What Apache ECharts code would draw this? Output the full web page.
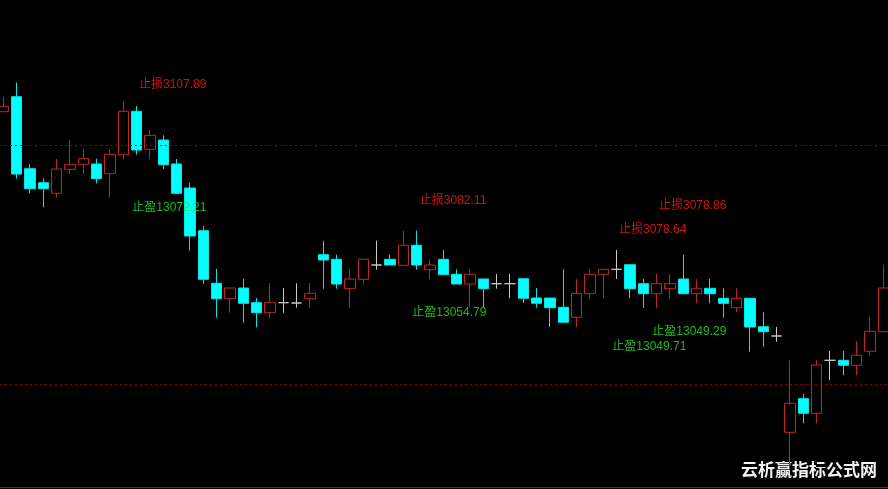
<!DOCTYPE html>
<html>
<head>
<meta charset="utf-8">
<script src="https://cdn.jsdelivr.net/npm/echarts@6/dist/echarts.min.js"></script>
<style>
html,body{margin:0;padding:0;background:#000;}
#chart{width:888px;height:489px;}
</style>
</head>
<body>
<div id="chart"></div>
<script>
// Candle values (arbitrary price units)
const opens  = [377.3,392.3,320.3,306.3,295.7,319.7,324.7,325,315.3,334.3,377.7,339.7,349,325,301,258.3,205.7,190.3,201,186.3,176.3,186.3,186,190.3,234.3,229.7,200.3,209.7,224,229.7,223.7,243.7,219.3,229.7,214.7,205,210,205.3,205.3,210.3,191,191,181.7,171.7,195.3,214.7,219.7,224.3,205.3,195.3,200.3,210,195.3,200.7,190.7,181.3,190.7,162.3,153,56.7,90.3,75.7,128.7,128.7,123.7,137.7,157.3];
const closes = [382.7,315,300.3,300.3,320,324.7,330.3,310.3,334.7,377.7,339,353.7,324.3,295.7,253,209.7,190.3,201,185.7,176.3,186.3,186.3,186,195.7,229,205,210,229.7,224,224,243.7,224,224,214.3,205,214.7,200.3,205.3,205.3,190.7,185.7,181.3,166.7,195.7,214.7,219.7,219.7,200.3,195.3,205.3,205.3,195.3,200.7,195.3,185.7,190.7,162,157.3,153,85.7,75.7,124,128.7,123.7,133.7,157.7,201];
const lows   = [377.3,310.3,295.7,281.7,291.3,315,315,305.7,291.3,329.7,334.3,330,320,295,238.3,205,171.3,176.3,166.3,161.7,171.3,176.3,181.3,181.3,200.3,200.3,181.3,205,219.3,224,223.7,219.3,209.7,214.3,205,181.3,181.3,200.3,190.7,186,181.3,162,166.7,162,190.7,190.7,210,190.7,181,181,190.7,195.3,185.7,185.7,171.3,176.7,137.3,142.3,147.3,24,65.7,65.7,109,113.7,113.7,133,157.3];
const highs  = [392,406.3,325,310.7,330,349,340,330.3,340,387.7,383,359,353.7,330,306,263,220,201,210.3,191,205.7,201,205.7,205.7,248.3,234.3,219.7,229.7,248.3,234.3,258.3,258.3,229.3,239,219.7,219.7,210,215,215,210.3,201,191,219.7,210,219.7,219.7,239,224.3,210,215,215,234.3,210,210,200.7,200.7,190.7,176.7,162,128.7,95,128.7,138,138,147.7,172,224];
const categories = opens.map((_, i) => String(i + 1));

// Reference lines (dotted)
const levelLines = [344, 104.7];

// Stop-loss / take-profit annotations
const noteTexts  = ['止损3107.89','止盈13072.21','止损3082.11','止盈13054.79','止损3078.86','止损3078.64','止盈13049.29','止盈13049.71'];
const noteIndex  = [15, 15, 36, 36, 54, 51, 54, 51];
const noteValues = [405.5, 283, 290, 178, 285, 261, 159, 144];
const noteKinds  = ['loss','gain','loss','gain','loss','loss','gain','gain'];

const kData = opens.map((o, i) => [o, closes[i], lows[i], highs[i]]);

const lossColor = '#ff1a1a';
const gainColor = '#22e622';

const chart = echarts.init(document.getElementById('chart'), null, {renderer: 'canvas'});
chart.setOption({
  backgroundColor: '#000000',
  animation: false,
  grid: [
    {left: 3.33, right: 4.67, top: 0, bottom: 2, containLabel: false},
    {left: 0, right: 0, top: 0, bottom: 2, containLabel: false}
  ],
  xAxis: [
    {
      gridIndex: 0,
      type: 'category',
      data: categories,
      boundaryGap: false,
      axisLine: {show: false},
      axisTick: {show: false},
      axisLabel: {show: false},
      splitLine: {show: false}
    },
    {
      gridIndex: 1,
      type: 'value',
      min: 0,
      max: 1,
      axisLine: {show: true, onZero: false, lineStyle: {color: '#c00000', width: 1}},
      axisTick: {show: false},
      axisLabel: {show: false},
      splitLine: {show: false}
    }
  ],
  yAxis: [
    {gridIndex: 0, type: 'value', min: 2, max: 489, show: false, splitLine: {show: false}},
    {gridIndex: 1, type: 'value', min: 2, max: 489, show: false, splitLine: {show: false}}
  ],
  series: [
    {
      type: 'line',
      xAxisIndex: 1,
      yAxisIndex: 1,
      data: [[0, 2], [1, 2]],
      symbol: 'none',
      silent: true,
      lineStyle: {opacity: 0},
      markLine: {
        silent: true,
        symbol: ['none', 'none'],
        label: {show: false},
        lineStyle: {color: '#9a0000', type: [2, 3], width: 1},
        data: levelLines.map(v => ({yAxis: v}))
      }
    },
    {
      type: 'candlestick',
      xAxisIndex: 0,
      yAxisIndex: 0,
      data: kData,
      barWidth: 11,
      clip: false,
      itemStyle: {
        color: '#000000',
        color0: '#00ffff',
        borderColor: '#c02525',
        borderColor0: '#00e8e8',
        borderColorDoji: '#c8c8c8',
        borderWidth: 1
      }
    },
    {
      type: 'scatter',
      xAxisIndex: 0,
      yAxisIndex: 0,
      symbolSize: 0,
      silent: true,
      data: noteTexts.map((t, i) => ({
        value: [noteIndex[i], noteValues[i]],
        name: t,
        label: {color: noteKinds[i] === 'loss' ? lossColor : gainColor}
      })),
      label: {
        show: true,
        position: 'inside',
        align: 'right',
        verticalAlign: 'middle',
        offset: [3, 1.5],
        formatter: p => p.name,
        fontSize: 12,
        fontFamily: '"Liberation Sans", Arial, "Noto Sans CJK SC", sans-serif'
      }
    }
  ],
  graphic: [
    {
      type: 'text',
      left: 741,
      top: 461,
      style: {
        text: '云析赢指标公式网',
        fill: '#f2f2f2',
        font: 'bold 17px "Noto Sans CJK SC", sans-serif'
      }
    }
  ]
});
</script>
</body>
</html>
